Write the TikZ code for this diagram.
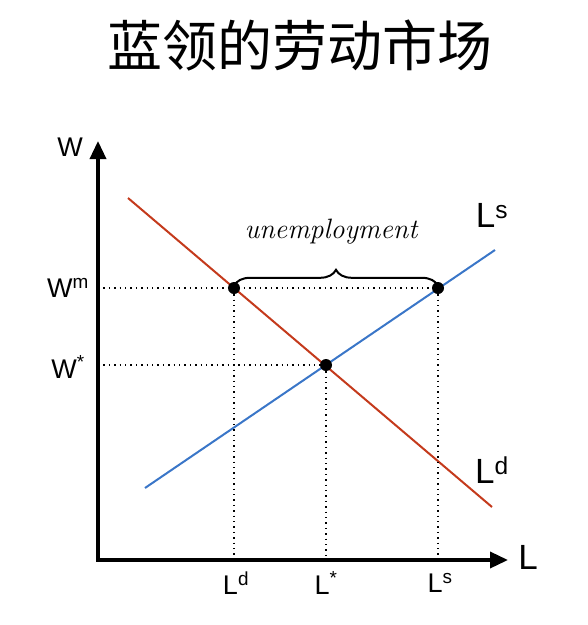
\documentclass[tikz,border=0pt]{standalone}
\usepackage{fontspec}
\setsansfont{Liberation Sans}
\newfontfamily\cjkfont{Noto Sans CJK SC}
\usetikzlibrary{arrows.meta, positioning, decorations.pathreplacing}
\definecolor{demandred}{RGB}{196,58,28}
\definecolor{supplyblue}{RGB}{58,118,200}

\begin{document}
\begin{tikzpicture}[
  x=1pt, y=-1pt,
  font=\sffamily,
  axis/.style={line width=3.5pt, line join=miter, {Triangle[length=18pt, width=16pt]}-{Triangle[length=18pt, width=16pt]}},
  curve/.style={line width=2pt},
  guide/.style={line width=1.4pt, dash pattern=on 1.4pt off 4pt},
  eqpoint/.style={circle, fill=black, inner sep=0pt, minimum size=12pt},
  small label/.style={font=\sffamily\fontsize{27}{27}\selectfont, inner sep=0pt},
  big label/.style={font=\sffamily\fontsize{35}{35}\selectfont, inner sep=0pt}
]
\useasboundingbox (0,0) rectangle (588,625);
% title
\node[font=\cjkfont\fontsize{55}{55}\selectfont] (title) at (300,45) {蓝领的劳动市场};
% axes
\coordinate (O) at (98,560);
\coordinate (wtop) at (98,141);
\coordinate (lend) at (508,560);
\draw[axis] (wtop) -- (O) -- (lend);
\node[small label] (wlabel) at (70,147) {W};
\node[big label] (llabel) at (528,557) {L};
% demand and supply
\coordinate (d1) at (128,198);
\coordinate (d2) at (492,507);
\coordinate (s1) at (145,488);
\coordinate (s2) at (495,250);
\draw[curve, demandred] (d1) -- (d2);
\draw[curve, supplyblue] (s1) -- (s2);
\node[big label] (lslabel) at (492,215) {L\textsuperscript{s}};
\node[big label] (ldlabel) at (492,470) {L\textsuperscript{d}};
% points
\node[eqpoint] (A) at (234,288) {};
\node[eqpoint] (E) at (326,365) {};
\node[eqpoint] (B) at (438,288) {};
\draw[guide] (A -| O) -- (B);
\draw[guide] (E -| O) -- (E);
\draw[guide] (A) -- (A |- O);
\draw[guide] (E) -- (E |- O);
\draw[guide] (B) -- (B |- O);
\node[small label, anchor=east] (wm) at (89,288) {W\textsuperscript{m}};
\node[small label, anchor=east] (wstar) at (85,367) {W\textsuperscript{*}};
\node[small label] (ld) at (236,583) {L\textsuperscript{d}};
\node[small label] (lstar) at (326,583) {L\textsuperscript{*}};
\node[small label] (ls) at (440,583) {L\textsuperscript{s}};
% unemployment
\draw[line width=2pt, decorate, decoration={brace, amplitude=16pt}] ([yshift=-4pt]A.north) -- ([yshift=-4pt]B.north);
\node[font=\rmfamily\itshape\fontsize{28}{28}\selectfont] (gap) at (331,232) {unemployment};
\end{tikzpicture}
\end{document}
